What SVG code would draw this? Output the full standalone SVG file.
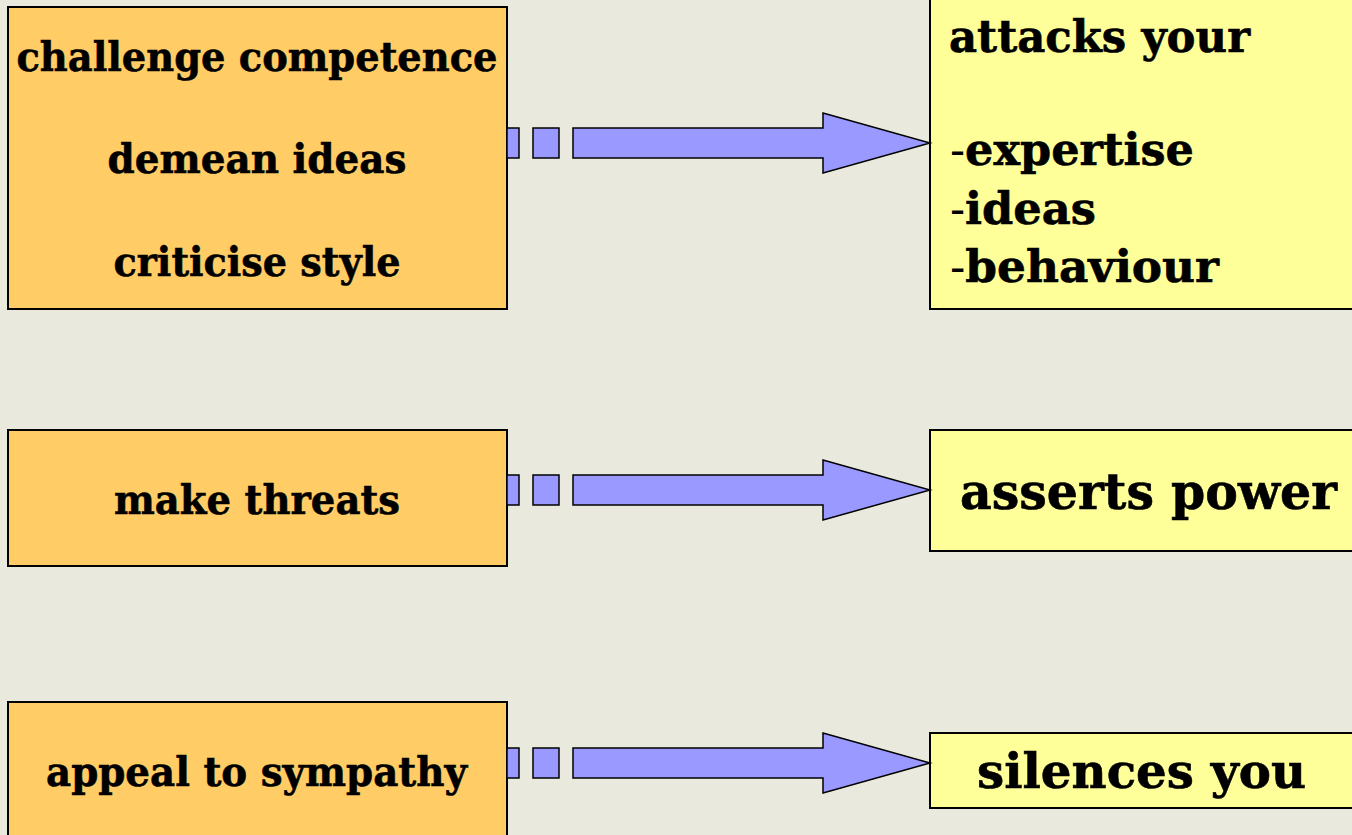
<svg xmlns="http://www.w3.org/2000/svg" width="1352" height="835" viewBox="0 0 1352 835">
<style>
.src{fill:#FFCC66;stroke:#000;stroke-width:2}
.dst{fill:#FFFF99;stroke:#000;stroke-width:2}
.arr{fill:#9999FF;stroke:#000;stroke-width:1.5;stroke-linejoin:miter}
text{font-family:"DejaVu Serif","Liberation Serif",serif;font-weight:bold;fill:#000;stroke:#000;stroke-width:0.6}
.l{font-size:41px;text-anchor:middle}
.r{font-size:44px}
.h{font-weight:normal;stroke-width:0}
</style>
<rect x="0" y="0" width="1352" height="835" fill="#EAE9DE"/>
<g id="src1">
<rect class="src" x="8" y="7" width="499" height="302"/>
<text class="l" x="257" y="71" textLength="481" lengthAdjust="spacingAndGlyphs">challenge competence</text>
<text class="l" x="257" y="173" textLength="299" lengthAdjust="spacingAndGlyphs">demean ideas</text>
<text class="l" x="257" y="276" textLength="287" lengthAdjust="spacingAndGlyphs">criticise style</text>
</g>
<g id="src2">
<rect class="src" x="8" y="430" width="499" height="136"/>
<text class="l" x="257" y="514" textLength="286" lengthAdjust="spacingAndGlyphs">make threats</text>
</g>
<g id="src3">
<rect class="src" x="8" y="702" width="499" height="140"/>
<text class="l" x="256.5" y="786" textLength="421" lengthAdjust="spacingAndGlyphs">appeal to sympathy</text>
</g>
<g id="dst1">
<rect class="dst" x="930" y="-5" width="430" height="314"/>
<text class="r" x="949" y="52" textLength="301" lengthAdjust="spacingAndGlyphs">attacks your</text>
<text class="r" x="950" y="165" textLength="244" lengthAdjust="spacingAndGlyphs"><tspan class="h">-</tspan>expertise</text>
<text class="r" x="950" y="224" textLength="146" lengthAdjust="spacingAndGlyphs"><tspan class="h">-</tspan>ideas</text>
<text class="r" x="950" y="282" textLength="269" lengthAdjust="spacingAndGlyphs"><tspan class="h">-</tspan>behaviour</text>
</g>
<g id="dst2">
<rect class="dst" x="930" y="430" width="430" height="121"/>
<text x="960" y="509" font-size="50" textLength="377" lengthAdjust="spacingAndGlyphs">asserts power</text>
</g>
<g id="dst3">
<rect class="dst" x="930" y="733" width="430" height="75"/>
<text x="977" y="788" font-size="48" textLength="329" lengthAdjust="spacingAndGlyphs">silences you</text>
</g>
<g id="connectors">
<g>
<rect class="arr" x="507" y="128" width="12" height="30"/>
<rect class="arr" x="533" y="128" width="26" height="30"/>
<path class="arr" d="M573,128 H823 V113 L930,143 L823,173 V158 H573 Z"/>
</g>
<g>
<rect class="arr" x="507" y="475" width="12" height="30"/>
<rect class="arr" x="533" y="475" width="26" height="30"/>
<path class="arr" d="M573,475 H823 V460 L930,490 L823,520 V505 H573 Z"/>
</g>
<g>
<rect class="arr" x="507" y="748" width="12" height="30"/>
<rect class="arr" x="533" y="748" width="26" height="30"/>
<path class="arr" d="M573,748 H823 V733 L930,763 L823,793 V778 H573 Z"/>
</g>
</g>
</svg>
